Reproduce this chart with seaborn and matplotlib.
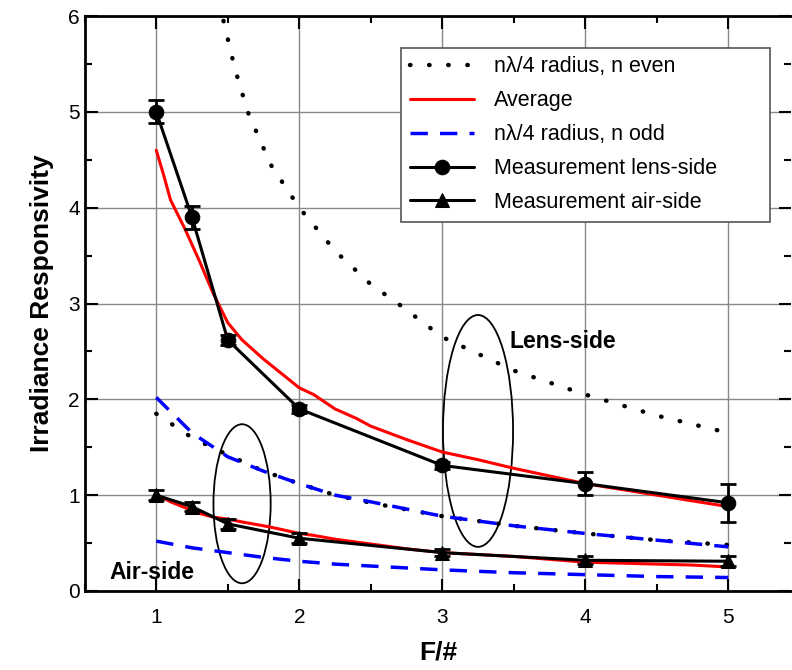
import matplotlib.pyplot as plt
import matplotlib.patches as mpatches
import numpy as np
import pandas as pd
import seaborn as sns

# measured points
f_meas = [1, 1.25, 1.5, 2, 3, 4, 5]
lens_meas = [5.0, 3.9, 2.62, 1.9, 1.31, 1.12, 0.92]
lens_err = [0.12, 0.12, 0.05, 0.04, 0.04, 0.12, 0.2]
air_meas = [1.0, 0.88, 0.7, 0.55, 0.4, 0.32, 0.31]
air_err = [0.05, 0.05, 0.05, 0.05, 0.04, 0.04, 0.05]

# averaged model curves
f_avg = [1, 1.05, 1.1, 1.2, 1.3, 1.4, 1.5, 1.6, 1.75, 1.85, 2, 2.1, 2.25, 2.4, 2.5, 2.75, 3, 3.25, 3.5, 3.75, 4, 4.25, 4.5, 4.75, 5]
lens_avg = [4.6, 4.35, 4.08, 3.78, 3.45, 3.1, 2.8, 2.62, 2.42, 2.3, 2.12, 2.05, 1.9, 1.8, 1.72, 1.58, 1.45, 1.37, 1.28, 1.2, 1.12, 1.06, 1.0, 0.94, 0.88]
air_avg = [1.0, 0.97, 0.93, 0.87, 0.81, 0.77, 0.75, 0.72, 0.68, 0.65, 0.6, 0.58, 0.54, 0.51, 0.49, 0.44, 0.4, 0.38, 0.36, 0.33, 0.3, 0.29, 0.28, 0.27, 0.25]

# n lambda/4 radius, n even
f_even_hi = [1.47, 1.55, 1.64, 1.8, 2, 2.25, 2.5, 2.69, 3, 3.5, 4, 4.5, 5]
even_hi = [5.95, 5.45, 5.0, 4.45, 4.0, 3.55, 3.2, 3.0, 2.65, 2.3, 2.05, 1.83, 1.65]
f_even_lo = [1, 1.25, 1.5, 1.75, 2, 2.25, 2.5, 3, 3.5, 4, 4.5, 5]
even_lo = [1.85, 1.6, 1.42, 1.25, 1.12, 1.0, 0.92, 0.78, 0.68, 0.6, 0.53, 0.48]

# n lambda/4 radius, n odd
f_odd = [1, 1.25, 1.5, 1.75, 2, 2.25, 2.5, 3, 3.5, 4, 4.5, 5]
odd_hi = [2.02, 1.65, 1.4, 1.25, 1.12, 1.0, 0.93, 0.78, 0.68, 0.6, 0.53, 0.46]
odd_lo = [0.52, 0.45, 0.4, 0.35, 0.31, 0.28, 0.26, 0.22, 0.19, 0.17, 0.15, 0.14]

sns.set_style('ticks')
plt.rcParams['font.family'] = ['Liberation Sans', 'DejaVu Sans']
plt.rcParams.update({'text.color': 'black', 'axes.labelcolor': 'black', 'xtick.color': 'black',
                     'ytick.color': 'black', 'axes.edgecolor': 'black'})

fig = plt.figure(figsize=(7.92, 6.7), dpi=100)
ax = fig.add_axes([0.107, 0.118, 0.892, 0.858])

dot = (0, (0.1, 4.2))
dash = (0, (5, 3.5))

sns.lineplot(x=f_even_hi, y=even_hi, ax=ax, color='black', lw=3.2, linestyle=dot,
             dash_capstyle='round', label='n\u03bb/4 radius, n even')
sns.lineplot(x=f_even_lo, y=even_lo, ax=ax, color='black', lw=3.2, linestyle=dot,
             dash_capstyle='round')
sns.lineplot(x=f_avg, y=lens_avg, ax=ax, color='red', lw=2.2, label='Average')
sns.lineplot(x=f_avg, y=air_avg, ax=ax, color='red', lw=2.2)
sns.lineplot(x=f_odd, y=odd_hi, ax=ax, color='blue', lw=2.5, linestyle=dash, label='n\u03bb/4 radius, n odd')
sns.lineplot(x=f_odd, y=odd_lo, ax=ax, color='blue', lw=2.5, linestyle=dash)

sns.lineplot(x=f_meas, y=lens_meas, ax=ax, color='black', lw=2.2, marker='o', markersize=10.5,
             markeredgecolor='black', label='Measurement lens-side')
ax.errorbar(f_meas, lens_meas, yerr=lens_err, fmt='none', ecolor='black', elinewidth=2, capsize=6, capthick=2)
sns.lineplot(x=f_meas, y=air_meas, ax=ax, color='black', lw=2.2, marker='^', markersize=10.5,
             markeredgecolor='black', label='Measurement air-side')
ax.errorbar(f_meas, air_meas, yerr=air_err, fmt='none', ecolor='black', elinewidth=2, capsize=6, capthick=2)

# ellipses marking the two groups
ax.add_patch(mpatches.Ellipse((3.25, 1.67), 0.49, 2.42, fill=False, ec='black', lw=1.3))
ax.add_patch(mpatches.Ellipse((1.6, 0.91), 0.4, 1.66, fill=False, ec='black', lw=1.3))
ax.text(3.47, 2.6, 'Lens-side', fontsize=16.5, fontweight='bold', va='center')
ax.text(0.67, 0.19, 'Air-side', fontsize=16.5, fontweight='bold', va='center')

ax.set_xlim(0.5, 5.44)
ax.set_ylim(0, 6)
ax.set_xticks([1, 2, 3, 4, 5])
ax.set_xticks(np.arange(0.5, 5.5, 0.5), minor=True)
ax.set_yticks(range(7))
ax.set_yticks(np.arange(0, 6.5, 0.5), minor=True)
ax.grid(True, which='major', color='#888888', lw=1)
ax.tick_params(which='both', direction='in', top=True, right=True, width=1.5, labelsize=15)
ax.tick_params(which='major', length=9)
ax.tick_params(which='minor', length=5)
ax.tick_params(axis='x', pad=12)
for s in ['left', 'bottom', 'top']:
    ax.spines[s].set_linewidth(2)
ax.spines['right'].set_visible(False)

ax.set_xlabel('F/#', fontsize=19, fontweight='bold', labelpad=10)
ax.set_ylabel('Irradiance Responsivity', fontsize=19, fontweight='bold', labelpad=10)

leg = ax.legend(loc='upper left', bbox_to_anchor=(0.448, 0.945, 0.522, 0), mode='expand',
                fontsize=15.5, frameon=True, fancybox=False, edgecolor='#555555', framealpha=1,
                handlelength=3.0, handletextpad=0.9, borderpad=0.4, labelspacing=0.6, borderaxespad=0)
leg.get_frame().set_linewidth(1.2)

plt.savefig('out.png', dpi=100)
